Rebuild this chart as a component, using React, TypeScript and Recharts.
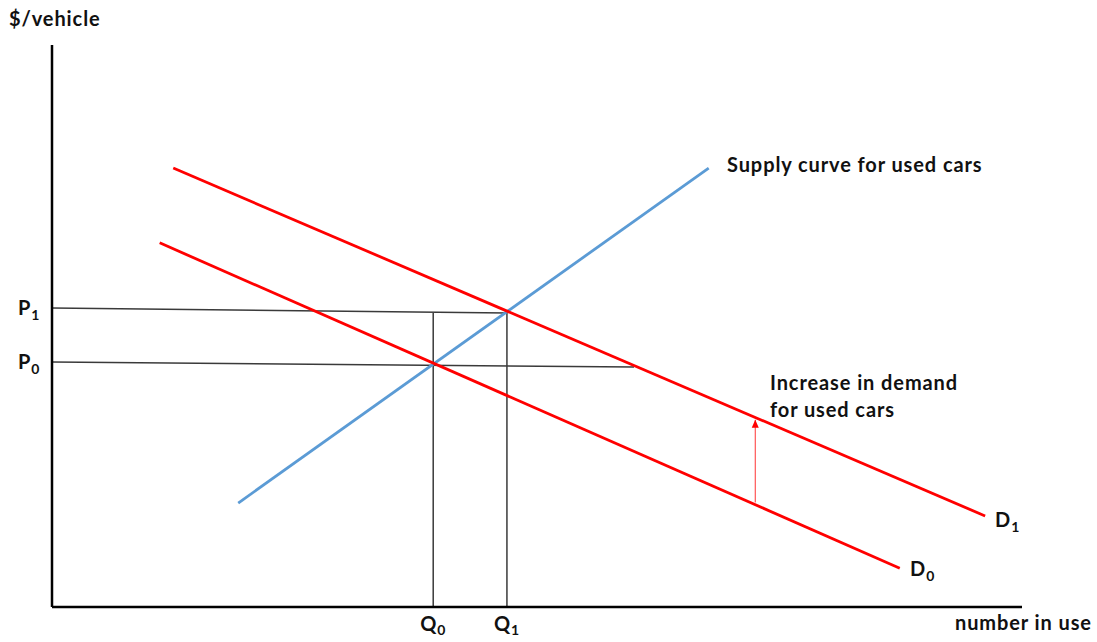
import React from 'react';
import { ComposedChart, Line, XAxis, YAxis } from 'recharts';

// Quantity ticks (Q0, Q1) and price ticks (P0, P1)
const quantityTicks = [39.3, 46.9];
const quantityTickSubs = ['0', '1'];
const priceTicks = [43.6, 53.2];
const priceTickSubs = ['0', '1'];

// Curves (q = number in use, p = $/vehicle)
const supplyCurve = [
  { q: 19.2, p: 18.5 },
  { q: 67.7, p: 78.1 },
];
const demandD0 = [
  { q: 11.1, p: 64.8 },
  { q: 87.4, p: 6.9 },
];
const demandD1 = [
  { q: 12.5, p: 78.1 },
  { q: 96.2, p: 16.2 },
];
// Guide lines
const priceLineP0 = [
  { q: 0, p: 43.6 },
  { q: 60.0, p: 42.7 },
];
const priceLineP1 = [
  { q: 0, p: 53.2 },
  { q: 46.9, p: 52.3 },
];
const quantityLineQ0 = [
  { q: 39.3, p: 52.3 },
  { q: 39.3, p: 0 },
];
const quantityLineQ1 = [
  { q: 46.9, p: 52.3 },
  { q: 46.9, p: 0 },
];
const demandShiftArrow = [
  { q: 72.5, p: 18.6 },
  { q: 72.5, p: 33.3 },
];

const FONT = 'Lato, "Liberation Sans", sans-serif';
const GUIDE = '#3a3a3a';
const RED = '#ff0000';
const BLUE = '#5b9bd5';

const textStyle: React.CSSProperties = { fontFamily: FONT, fontWeight: 700, letterSpacing: 0.9 };

const QTick = (props: any) => {
  const { x, index } = props;
  return (
    <text x={x} y={631} textAnchor="middle" fill="#111" style={textStyle} fontSize={20}>
      <tspan>Q</tspan>
      <tspan fontSize={14} dy={4}>{quantityTickSubs[index]}</tspan>
    </text>
  );
};

const PTick = (props: any) => {
  const { y, index } = props;
  return (
    <text x={18} y={y + 7} textAnchor="start" fill="#111" style={textStyle} fontSize={20}>
      <tspan>P</tspan>
      <tspan fontSize={14} dy={5}>{priceTickSubs[index]}</tspan>
    </text>
  );
};

const ArrowDot = (props: any) => {
  const { cx, cy, index } = props;
  if (index !== 1 || cx == null) return <g key={`a${index}`} />;
  return (
    <polygon
      key={`a${index}`}
      points={`${cx},${cy} ${cx - 3.5},${cy + 8} ${cx + 3.5},${cy + 8}`}
      fill={RED}
    />
  );
};

export default function App() {
  return (
    <div style={{ position: 'absolute', left: 0, top: 0, background: '#fff' }}>
      <ComposedChart
        width={1097}
        height={642}
        margin={{ top: 45, right: 75, bottom: 5, left: 12 }}
      >
        <XAxis
          dataKey="q"
          type="number"
          domain={[0, 100]}
          ticks={quantityTicks}
          tick={QTick}
          tickLine={false}
          axisLine={{ stroke: '#000', strokeWidth: 2.5 }}
          height={30}
          allowDataOverflow
        />
        <YAxis
          dataKey="p"
          type="number"
          domain={[0, 100]}
          ticks={priceTicks}
          tick={PTick}
          tickLine={false}
          axisLine={{ stroke: '#000', strokeWidth: 2.5 }}
          width={40}
          allowDataOverflow
        />
        <Line data={priceLineP0} dataKey="p" type="linear" stroke={GUIDE} strokeWidth={1.5} dot={false} isAnimationActive={false} />
        <Line data={priceLineP1} dataKey="p" type="linear" stroke={GUIDE} strokeWidth={1.5} dot={false} isAnimationActive={false} />
        <Line data={quantityLineQ0} dataKey="p" type="linear" stroke={GUIDE} strokeWidth={1.5} dot={false} isAnimationActive={false} />
        <Line data={quantityLineQ1} dataKey="p" type="linear" stroke={GUIDE} strokeWidth={1.5} dot={false} isAnimationActive={false} />
        <Line data={supplyCurve} dataKey="p" type="linear" stroke={BLUE} strokeWidth={2.8} dot={false} isAnimationActive={false} />
        <Line data={demandD0} dataKey="p" type="linear" stroke={RED} strokeWidth={2.8} dot={false} isAnimationActive={false} />
        <Line data={demandD1} dataKey="p" type="linear" stroke={RED} strokeWidth={2.8} dot={false} isAnimationActive={false} />
        <Line data={demandShiftArrow} dataKey="p" type="linear" stroke={RED} strokeWidth={1} strokeOpacity={0.8} dot={ArrowDot} activeDot={false} isAnimationActive={false} />

        <text x={9} y={26} fill="#111" style={textStyle} fontSize={20}>$/vehicle</text>
        <text x={727} y={172} fill="#111" style={textStyle} fontSize={20}>Supply curve for used cars</text>
        <text x={770} y={390} fill="#111" style={textStyle} fontSize={20}>Increase in demand</text>
        <text x={770} y={417} fill="#111" style={textStyle} fontSize={20}>for used cars</text>
        <text x={995} y={527} fill="#111" style={textStyle} fontSize={20}>
          <tspan>D</tspan>
          <tspan fontSize={14} dy={5}>1</tspan>
        </text>
        <text x={910} y={576} fill="#111" style={textStyle} fontSize={20}>
          <tspan>D</tspan>
          <tspan fontSize={14} dy={5}>0</tspan>
        </text>
        <text x={955} y={630} fill="#111" style={textStyle} fontSize={20}>number in use</text>
      </ComposedChart>
    </div>
  );
}
